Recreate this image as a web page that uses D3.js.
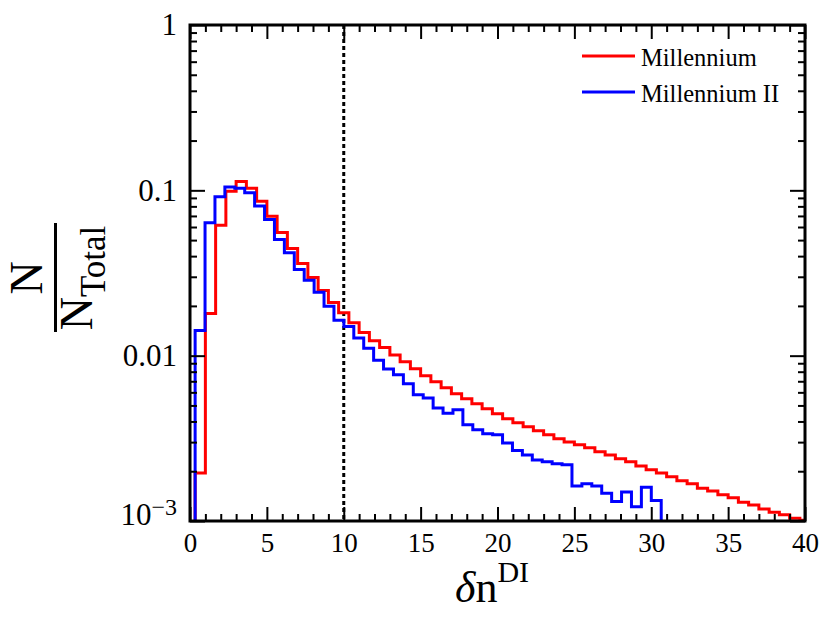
<!DOCTYPE html>
<html>
<head>
<meta charset="utf-8">
<script src="https://cdn.jsdelivr.net/npm/d3@7"></script>
<style>
  body { margin: 0; background: #fff; }
  svg { display: block; }
  svg text { font-family: "Liberation Serif", "DejaVu Serif", "Noto Serif", serif; }
</style>
</head>
<body>
<div id="chart"></div>
<script>
"use strict";

let svgWidth = 831;
let svgHeight = 623;
let plotL = 190, plotR = 805, plotT = 25, plotB = 521;
let serifFont = "'Liberation Serif', 'DejaVu Serif', 'Noto Serif', serif";

// histogram bins in delta n^DI: lower edge of the first bin and bin width
let millBinStart = 1 / 3, millBinWidth = 2 / 3;
let mill2BinStart = 1 / 3, mill2BinWidth = 0.645;

// N / N_Total per bin
let millValues = [
  0.00195, 0.0180, 0.0614, 0.0986, 0.113, 0.103, 0.0858, 0.0696, 0.0556, 0.0445,
  0.0361, 0.0297, 0.0248, 0.0210, 0.0182, 0.0158, 0.0138, 0.0123, 0.0112, 0.0101,
  0.00920, 0.00834, 0.00756, 0.00696, 0.00640, 0.00588, 0.00549, 0.00512, 0.00477, 0.00445,
  0.00415, 0.00393, 0.00371, 0.00351, 0.00332, 0.00314, 0.00301, 0.00289, 0.00277, 0.00262,
  0.00251, 0.00238, 0.00228, 0.00215, 0.00204, 0.00195, 0.00185, 0.00175, 0.00168, 0.00158,
  0.00152, 0.00144, 0.00138, 0.00130, 0.00125, 0.00118, 0.00113, 0.00109, 0.00104, 0.00101
];
let mill2Values = [
  0.0142, 0.0637, 0.0915, 0.1047, 0.103, 0.0968, 0.0803, 0.0667, 0.0505, 0.0419,
  0.0332, 0.0286, 0.0242, 0.0199, 0.0164, 0.0150, 0.0128, 0.0111, 0.00937, 0.00831,
  0.00767, 0.00677, 0.00580, 0.00554, 0.00482, 0.00449, 0.00471, 0.00382, 0.00356, 0.00337,
  0.00332, 0.00296, 0.00267, 0.00251, 0.00234, 0.00228, 0.00222, 0.00219, 0.00163, 0.00168,
  0.00163, 0.00147, 0.00131, 0.00150, 0.00122, 0.00160, 0.00133
];

let seriesNames = ["Millennium", "Millennium II"];
let seriesColors = ["#ff0000", "#0000ff"];

let xMajorTicks = [0, 5, 10, 15, 20, 25, 30, 35, 40];
let xMinorTicks = d3.range(1, 40).filter(function(d){ return d % 5 !== 0; });
let yMajorTicks = [0.001, 0.01, 0.1, 1];
let yMinorTicks = [];
[0.001, 0.01, 0.1].forEach(function(dec){
  for (let k = 2; k <= 9; k++) yMinorTicks.push(dec * k);
});
let cutValue = 10;   // dotted line

let svg = d3.select("#chart")
  .append("svg")
  .attr("width", svgWidth)
  .attr("height", svgHeight)
  .attr("font-family", serifFont);

let xScale = d3.scaleLinear().domain([0, 40]).range([plotL, plotR]);
let yScale = d3.scaleLog().domain([1e-3, 1]).range([plotB, plotT]);

svg.append("clipPath").attr("id", "plotclip")
  .append("rect")
  .attr("x", plotL).attr("y", plotT)
  .attr("width", plotR - plotL).attr("height", plotB - plotT);

/* dotted line at delta n = 10 */
svg.append("line")
  .attr("x1", xScale(cutValue)).attr("x2", xScale(cutValue))
  .attr("y1", plotT).attr("y2", plotB)
  .attr("stroke", "#000")
  .attr("stroke-width", 3)
  .attr("stroke-dasharray", "4,3");

/* step histograms */
function stepPoints(start, w, values) {
  let floorVal = 1e-4;  // below the axis, clipped away
  let pts = [[start, floorVal]];
  values.forEach(function(v, i) {
    pts.push([start + i * w, v]);
    pts.push([start + (i + 1) * w, v]);
  });
  pts.push([start + values.length * w, floorVal]);
  return pts;
}

let line = d3.line()
  .x(function(d){ return xScale(d[0]); })
  .y(function(d){ return yScale(d[1]); });

let series = [
  stepPoints(millBinStart, millBinWidth, millValues),
  stepPoints(mill2BinStart, mill2BinWidth, mill2Values)
];

series.forEach(function(pts, i) {
  svg.append("path")
    .attr("clip-path", "url(#plotclip)")
    .attr("d", line(pts))
    .attr("fill", "none")
    .attr("stroke", seriesColors[i])
    .attr("stroke-width", 3)
    .attr("stroke-linejoin", "miter");
});

/* axes: ticks on all four sides, pointing inward */
function styleAxis(g) {
  g.select(".domain").remove();
  g.selectAll("line").attr("stroke", "#000").attr("stroke-width", 2);
  g.attr("font-family", serifFont).attr("font-size", 27);
  g.selectAll("text").attr("fill", "#000");
}

svg.append("g")
  .attr("transform", "translate(0," + plotB + ")")
  .call(d3.axisBottom(xScale).tickValues(xMajorTicks).tickSize(-14).tickPadding(12).tickFormat(d3.format("d")))
  .call(styleAxis);
svg.append("g")
  .attr("transform", "translate(0," + plotB + ")")
  .call(d3.axisBottom(xScale).tickValues(xMinorTicks).tickSize(-7).tickFormat(""))
  .call(styleAxis);
svg.append("g")
  .attr("transform", "translate(0," + plotT + ")")
  .call(d3.axisTop(xScale).tickValues(xMajorTicks).tickSize(-14).tickFormat(""))
  .call(styleAxis);
svg.append("g")
  .attr("transform", "translate(0," + plotT + ")")
  .call(d3.axisTop(xScale).tickValues(xMinorTicks).tickSize(-7).tickFormat(""))
  .call(styleAxis);

let yFormat = function(d) {
  if (d === 1) return "1";
  if (d === 0.1) return "0.1";
  if (d === 0.01) return "0.01";
  return "10";
};
let yAxisG = svg.append("g")
  .attr("transform", "translate(" + plotL + ",0)")
  .call(d3.axisLeft(yScale).tickValues(yMajorTicks).tickSize(-15).tickPadding(13).tickFormat(yFormat))
  .call(styleAxis)
  .attr("font-size", 31);
// 10^-3 label with superscript
yAxisG.selectAll(".tick text")
  .filter(function(d){ return d === 0.001; })
  .attr("dy", "0.1em")
  .append("tspan")
  .attr("dy", "-0.4em")
  .attr("font-size", 24)
  .text("\u22123");

svg.append("g")
  .attr("transform", "translate(" + plotL + ",0)")
  .call(d3.axisLeft(yScale).tickValues(yMinorTicks).tickSize(-7).tickFormat(""))
  .call(styleAxis);
svg.append("g")
  .attr("transform", "translate(" + plotR + ",0)")
  .call(d3.axisRight(yScale).tickValues(yMajorTicks).tickSize(-15).tickFormat(""))
  .call(styleAxis);
svg.append("g")
  .attr("transform", "translate(" + plotR + ",0)")
  .call(d3.axisRight(yScale).tickValues(yMinorTicks).tickSize(-7).tickFormat(""))
  .call(styleAxis);

/* frame */
svg.append("rect")
  .attr("x", plotL).attr("y", plotT)
  .attr("width", plotR - plotL).attr("height", plotB - plotT)
  .attr("fill", "none")
  .attr("stroke", "#000")
  .attr("stroke-width", 3);

/* X-axis label: delta n^DI */
let xLabel = svg.append("text")
  .attr("x", 492)
  .attr("y", 602)
  .attr("text-anchor", "middle")
  .attr("font-size", 44);
xLabel.append("tspan").attr("font-style", "italic").text("\u03b4");
xLabel.append("tspan").text("n");
xLabel.append("tspan").attr("font-size", 30).attr("dy", -20).text("DI");

/* Y-axis label: N / N_Total */
let yMid = 278;
svg.append("text")
  .attr("transform", "translate(42," + yMid + ") rotate(-90)")
  .attr("text-anchor", "middle")
  .attr("font-size", 46)
  .text("N");
svg.append("line")
  .attr("x1", 55.5).attr("x2", 55.5)
  .attr("y1", 223).attr("y2", 332)
  .attr("stroke", "#000")
  .attr("stroke-width", 3);
let den = svg.append("text")
  .attr("transform", "translate(92," + yMid + ") rotate(-90)")
  .attr("text-anchor", "middle")
  .attr("font-size", 46);
den.append("tspan").text("N");
den.append("tspan").attr("font-size", 35).attr("dy", 13).text("Total");

/* Legend */
let legendX = 582, legendY = 56, legendGap = 36;
seriesNames.forEach(function(name, i) {
  let ly = legendY + i * legendGap;
  svg.append("line")
    .attr("x1", legendX).attr("x2", legendX + 53)
    .attr("y1", ly).attr("y2", ly)
    .attr("stroke", seriesColors[i])
    .attr("stroke-width", 3);
  svg.append("text")
    .attr("x", legendX + 59)
    .attr("y", ly + 10)
    .attr("font-size", 24.5)
    .text(name);
});
</script>
</body>
</html>
